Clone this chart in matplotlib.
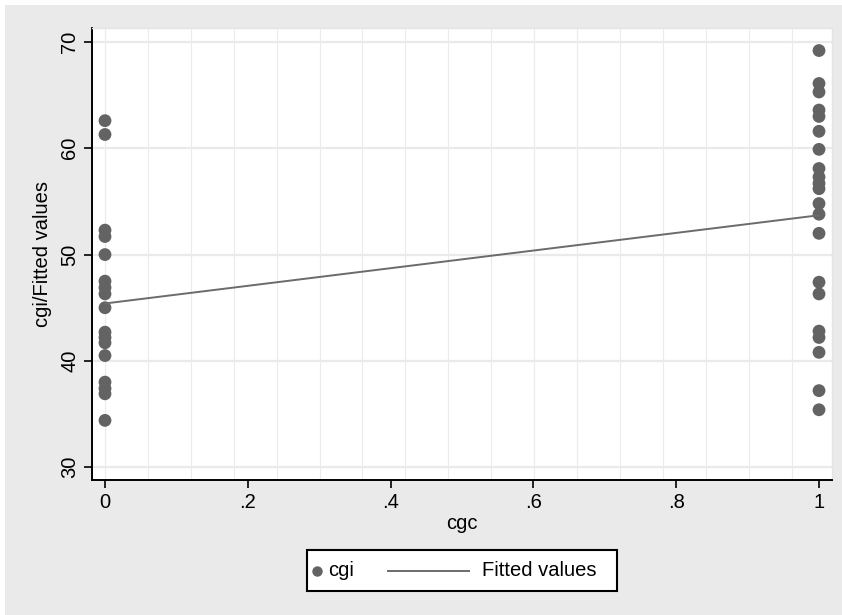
import numpy as np
import matplotlib
matplotlib.use("Agg")
import matplotlib.pyplot as plt
from matplotlib.patches import Rectangle
from matplotlib.lines import Line2D

plt.rcParams['font.family'] = ['Liberation Sans', 'DejaVu Sans']

# ---- data ----
cgi_group0 = [62.6, 61.3, 52.3, 51.7, 50.0, 47.5, 46.9, 46.3, 45.0, 42.7,
              42.2, 41.7, 40.5, 38.0, 37.4, 36.9, 34.4]
cgi_group1 = [69.2, 66.1, 65.3, 63.6, 63.0, 61.6, 59.9, 58.1, 57.3, 56.7,
              56.2, 54.8, 53.8, 52.0, 47.4, 46.3, 42.8, 42.2, 40.8, 37.2, 35.4]
fit_x = [0, 1]
fit_y = [45.4, 53.7]
xticks = [0, 0.2, 0.4, 0.6, 0.8, 1.0]
xtick_labels = ["0", ".2", ".4", ".6", ".8", "1"]
yticks = [30, 40, 50, 60, 70]
ytick_labels = ["30", "40", "50", "60", "70"]

cgc = [0] * len(cgi_group0) + [1] * len(cgi_group1)
cgi = cgi_group0 + cgi_group1

W, H = 842, 615
fig = plt.figure(figsize=(W / 100, H / 100), dpi=100)
fig.patch.set_facecolor('white')
# gray graph region
fig.patches.append(Rectangle((5 / W, 0), 1 - 5 / W, 1 - 5 / H, transform=fig.transFigure,
                             facecolor='#EAEAEA', edgecolor='none', zorder=-10))

ax = fig.add_axes([92 / W, 1 - 480 / H, (832 - 92) / W, (480 - 28) / H])
ax.set_facecolor('white')

gray_pt = '#636363'
line_col = '#6B6B6B'

ax.scatter(cgc, cgi, s=85, color=gray_pt, edgecolors='none', zorder=3)
ax.plot(fit_x, fit_y, color=line_col, lw=1.4, zorder=4)

ax.set_xlim(-0.0182, 1.0182)
ax.set_ylim(28.79, 71.32)

# grid
for yv in yticks:
    ax.axhline(yv, color='#EAEAEA', lw=1.6, zorder=1)
for xv in np.arange(0, 1.0, 0.0601):
    ax.axvline(xv, color='#EBEBEB', lw=0.8, zorder=1)

ax.set_xticks(xticks)
ax.set_xticklabels(xtick_labels)
ax.set_yticks(yticks)
ax.set_yticklabels(ytick_labels, rotation=90, va='center')
ax.tick_params(axis='both', direction='out', length=6, width=1.2, colors='black',
               labelsize=14.5, pad=3)

for side in ['top', 'right']:
    ax.spines[side].set_color('#E4E4E4')
    ax.spines[side].set_linewidth(1.0)
for side in ['left', 'bottom']:
    ax.spines[side].set_color('black')
    ax.spines[side].set_linewidth(1.4)

ax.set_xlabel('cgc', fontsize=14.5, labelpad=2)
ax.set_ylabel('cgi/Fitted values', fontsize=14.5, labelpad=6)

# legend (drawn manually to match layout)
lx0, lx1, ly0, ly1 = 307, 617, 550, 591
fig.patches.append(Rectangle((lx0 / W, 1 - ly1 / H), (lx1 - lx0) / W, (ly1 - ly0) / H,
                             transform=fig.transFigure, facecolor='white',
                             edgecolor='black', lw=1.5, zorder=5))
yc = 1 - 570.5 / H
fig.lines.append(Line2D([317 / W], [yc], marker='o', markersize=7.5, color=gray_pt,
                        markeredgecolor='none', linestyle='none',
                        transform=fig.transFigure, zorder=6))
fig.text(328 / W, yc, 'cgi', fontsize=14.5, va='center', ha='left', zorder=6)
fig.lines.append(Line2D([388 / W, 469 / W], [yc, yc], color=line_col, lw=1.4,
                        transform=fig.transFigure, zorder=6))
fig.text(482 / W, yc, 'Fitted values', fontsize=14.5, va='center', ha='left', zorder=6)

fig.savefig('out.png', dpi=100)
